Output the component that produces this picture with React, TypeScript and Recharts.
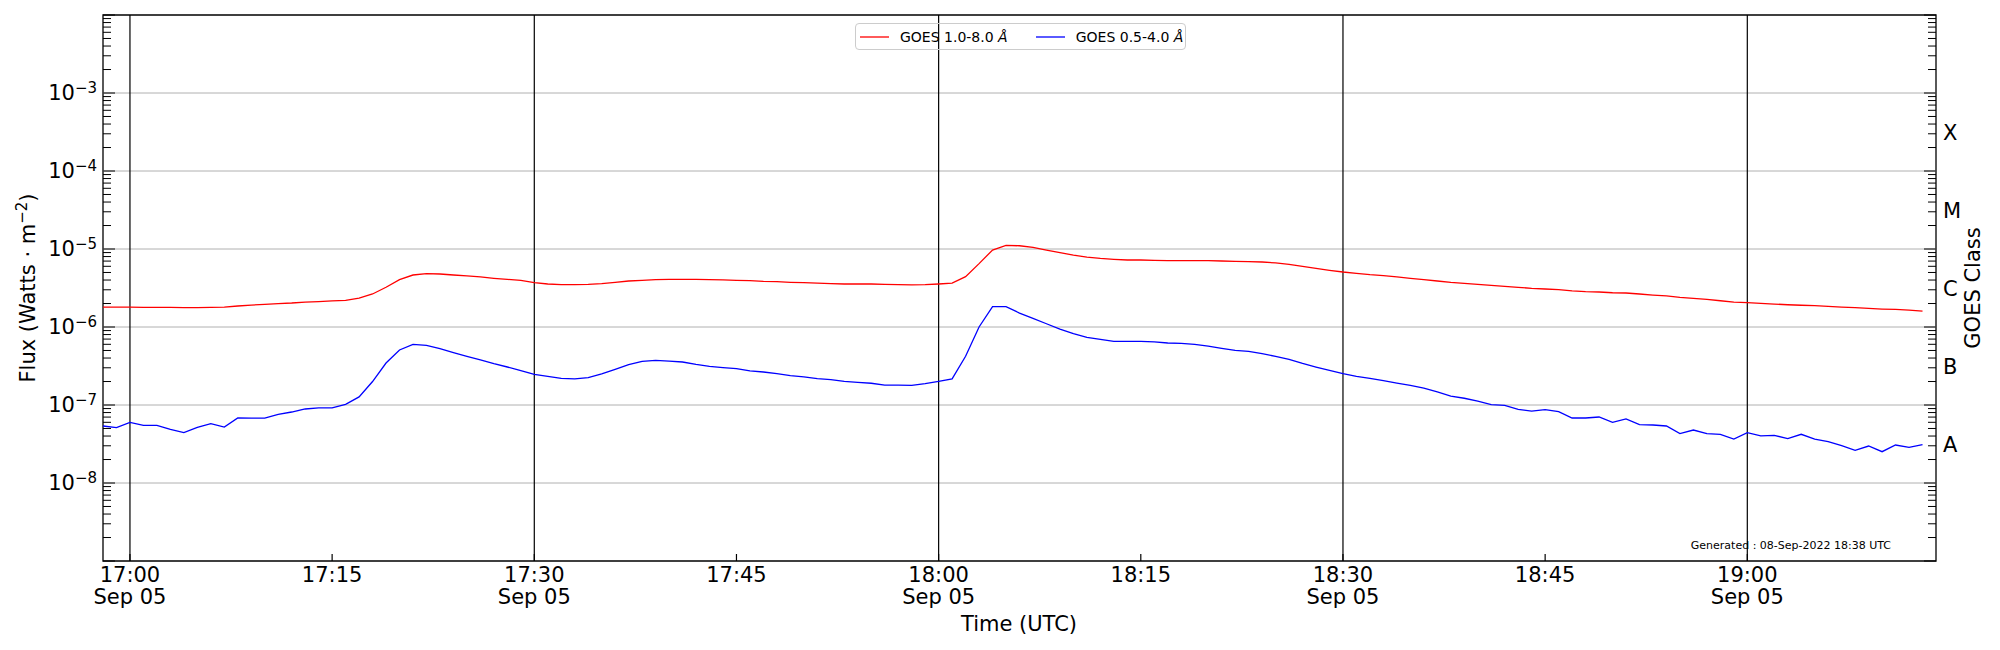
import { LineChart, Line, XAxis, YAxis, ReferenceLine, ReferenceArea, Legend } from "recharts"

// one-minute GOES XRS samples starting at 16:58 UTC, 05 Sep 2022
// long channel (1.0-8.0 Å), units of 1e-6 W/m^2
const xrsbMicro = [
  1.8, 1.8, 1.8, 1.79, 1.78, 1.78, 1.77, 1.77, 1.78, 1.8,
  1.86, 1.91, 1.95, 1.99, 2.03, 2.09, 2.12, 2.16, 2.2, 2.35,
  2.65, 3.23, 4.04, 4.64, 4.83, 4.78, 4.64, 4.51, 4.38, 4.21,
  4.08, 3.97, 3.7, 3.56, 3.49, 3.49, 3.52, 3.6, 3.74, 3.89,
  3.97, 4.04, 4.08, 4.08, 4.08, 4.04, 4.01, 3.97, 3.93, 3.85,
  3.81, 3.74, 3.7, 3.66, 3.6, 3.56, 3.56, 3.56, 3.52, 3.49,
  3.47, 3.49, 3.56, 3.66, 4.42, 6.49, 9.7, 11.1, 11.0, 10.5,
  9.7, 8.97, 8.37, 7.89, 7.59, 7.38, 7.23, 7.23, 7.16, 7.08,
  7.08, 7.08, 7.08, 7.02, 6.95, 6.88, 6.81, 6.62, 6.36, 6.0,
  5.65, 5.33, 5.07, 4.88, 4.69, 4.55, 4.38, 4.21, 4.04, 3.89,
  3.73, 3.63, 3.52, 3.42, 3.32, 3.23, 3.13, 3.07, 3.01, 2.9,
  2.84, 2.81, 2.75, 2.73, 2.65, 2.57, 2.5, 2.4, 2.33, 2.26,
  2.17, 2.09, 2.05, 2.01, 1.97, 1.93, 1.9, 1.88, 1.84, 1.8,
  1.77, 1.73, 1.7, 1.68, 1.65, 1.6,
]

// short channel (0.5-4.0 Å), units of 1e-8 W/m^2
const xrsaCenti = [
  5.38, 5.12, 6.0, 5.48, 5.48, 4.88, 4.42, 5.17, 5.77, 5.22,
  6.81, 6.8, 6.8, 7.59, 8.13, 8.89, 9.16, 9.16, 10.2, 12.7,
  20.0, 34.5, 50.7, 60.0, 58.2, 52.7, 46.9, 42.1, 37.8, 33.9,
  30.7, 27.5, 24.7, 23.3, 22.0, 21.6, 22.4, 25.0, 28.7, 32.9,
  36.3, 37.4, 36.6, 35.6, 33.2, 31.3, 30.1, 29.2, 27.3, 26.5,
  25.2, 23.8, 22.9, 21.8, 21.1, 20.1, 19.5, 19.0, 18.0, 18.0,
  17.9, 18.8, 20.1, 21.6, 42.1, 100, 182, 182, 151, 129,
  110, 94.2, 82.2, 73.8, 69.5, 65.5, 65.5, 65.5, 64.3, 62.4,
  61.5, 60.0, 57.0, 53.3, 50.2, 48.8, 45.5, 42.1, 38.5, 34.2,
  30.7, 27.8, 25.2, 23.3, 22.0, 20.5, 19.1, 17.9, 16.5, 14.7,
  13.0, 12.2, 11.2, 10.1, 9.9, 8.79, 8.37, 8.71, 8.22, 6.81,
  6.81, 7.02, 6.0, 6.62, 5.6, 5.54, 5.38, 4.29, 4.78, 4.29,
  4.21, 3.66, 4.42, 4.01, 4.08, 3.7, 4.21, 3.66, 3.39, 3.01,
  2.62, 2.98, 2.52, 3.07, 2.87, 3.1,
]

const seriesNames = ["GOES 1.0-8.0", "GOES 0.5-4.0"]

// x axis is minutes after 16:58
const timeDomain = [0, 136]
const timeTicks = [2, 17, 32, 47, 62, 77, 92, 107, 122]
const timeLabels = ["17:00", "17:15", "17:30", "17:45", "18:00", "18:15", "18:30", "18:45", "19:00"]
const dateTicks = [2, 32, 62, 92, 122]
const dateLabel = "Sep 05"

const fluxDomain = [1e-9, 1e-2]
const decades = [1e-9, 1e-8, 1e-7, 1e-6, 1e-5, 1e-4, 1e-3, 1e-2]
const labelledExponents = [-8, -7, -6, -5, -4, -3]
const gridLevels = [1e-8, 1e-7, 1e-6, 1e-5, 1e-4, 1e-3]
const minorMultipliers = [2, 3, 4, 5, 6, 7, 8, 9]
const classLetters = ["A", "B", "C", "M", "X"]
const classCenters = [3.162e-8, 3.162e-7, 3.162e-6, 3.162e-5, 3.162e-4]

const generatedNote = "Generated : 08-Sep-2022 18:38 UTC"

const FONT = "DejaVu Sans, sans-serif"
const FS = 21

const data = xrsbMicro.map((v, i) => ({
  t: i,
  xrsb: v * 1e-6,
  xrsa: xrsaCenti[i] * 1e-8,
}))

const minorTicks = decades.slice(0, -1).flatMap((d) => minorMultipliers.map((k) => k * d))
const leftTicks = [...decades, ...minorTicks]
const rightTicks = [...decades, ...minorTicks, ...classCenters]

const isDecade = (v: number) => decades.some((d) => Math.abs(v - d) / d < 1e-9)

function TimeTick(props: any) {
  const { x, y, payload } = props
  const i = timeTicks.indexOf(payload.value)
  return (
    <g>
      <line x1={x} x2={x} y1={y} y2={y - 7} stroke="#000" strokeWidth={1.2} />
      <text x={x} y={y + 21} textAnchor="middle" fontSize={FS} fontFamily={FONT} fill="#000">
        {timeLabels[i]}
      </text>
      {dateTicks.includes(payload.value) && (
        <text x={x} y={y + 43} textAnchor="middle" fontSize={FS} fontFamily={FONT} fill="#000">
          {dateLabel}
        </text>
      )}
    </g>
  )
}

function FluxTick(props: any) {
  const { x, y, payload } = props
  const v = payload.value
  const major = isDecade(v)
  const exp = Math.round(Math.log10(v))
  return (
    <g>
      <line x1={x} x2={x + (major ? 12 : 8)} y1={y} y2={y} stroke="#000" strokeWidth={1} />
      {major && labelledExponents.includes(exp) && (
        <text x={x - 6} y={y + 7} textAnchor="end" fontSize={FS} fontFamily={FONT} fill="#000">
          10
          <tspan dy={-7} fontSize={15}>
            {"\u2212" + Math.abs(exp)}
          </tspan>
        </text>
      )}
    </g>
  )
}

function ClassTick(props: any) {
  const { x, y, payload } = props
  const v = payload.value
  const c = classCenters.indexOf(v)
  if (c >= 0) {
    return (
      <text x={x + 7} y={y + 8} textAnchor="start" fontSize={FS} fontFamily={FONT} fill="#000">
        {classLetters[c]}
      </text>
    )
  }
  return <line x1={x} x2={x - (isDecade(v) ? 12 : 8)} y1={y} y2={y} stroke="#000" strokeWidth={1} />
}

function FluxLegend({ payload }: any) {
  // keep the order the series were declared in
  const items = [...(payload || [])].sort(
    (a: any, b: any) => seriesNames.indexOf(a.value) - seriesNames.indexOf(b.value),
  )
  return (
    <div
      style={{
        display: "flex",
        alignItems: "center",
        height: "100%",
        boxSizing: "border-box",
        border: "1px solid #cccccc",
        borderRadius: 4,
        paddingLeft: 4,
        fontFamily: FONT,
        fontSize: 14,
        color: "#000",
      }}
    >
      {items.map((p: any) => (
        <div key={p.value} style={{ display: "flex", alignItems: "center", marginRight: 28 }}>
          <svg width={29} height={6}>
            <line x1={0} x2={29} y1={3} y2={3} stroke={p.color} strokeWidth={1.3} />
          </svg>
          <span style={{ marginLeft: 11, whiteSpace: "nowrap" }}>
            {p.value} <i>Å</i>
          </span>
        </div>
      ))}
    </div>
  )
}

export default function App() {
  return (
    <div style={{ position: "absolute", left: 0, top: 0, background: "#fff" }}>
      <LineChart width={2000} height={650} data={data} margin={{ top: 15, right: 14, left: 23, bottom: 29 }}>
        <XAxis
          dataKey="t"
          type="number"
          domain={timeDomain}
          ticks={timeTicks}
          interval={0}
          height={60}
          tickSize={0}
          tickMargin={0}
          tickLine={false}
          axisLine={false}
          tick={<TimeTick />}
        />
        <YAxis
          yAxisId="flux"
          scale="log"
          type="number"
          domain={fluxDomain}
          allowDataOverflow
          ticks={leftTicks}
          interval={0}
          width={80}
          tickSize={0}
          tickMargin={0}
          tickLine={false}
          axisLine={false}
          tick={<FluxTick />}
        />
        <YAxis
          yAxisId="class"
          orientation="right"
          scale="log"
          type="number"
          domain={fluxDomain}
          allowDataOverflow
          ticks={rightTicks}
          interval={0}
          width={50}
          tickSize={0}
          tickMargin={0}
          tickLine={false}
          axisLine={false}
          tick={<ClassTick />}
        />
        {gridLevels.map((g) => (
          <ReferenceLine key={g} yAxisId="flux" y={g} stroke="#b0b0b0" strokeWidth={1} />
        ))}
        {dateTicks.map((t) => (
          <ReferenceLine key={t} yAxisId="flux" x={t} stroke="#000" strokeWidth={1.2} />
        ))}
        <Line
          yAxisId="flux"
          type="linear"
          dataKey="xrsb"
          name={seriesNames[0]}
          stroke="#ff0000"
          strokeWidth={1.3}
          dot={false}
          isAnimationActive={false}
        />
        <Line
          yAxisId="flux"
          type="linear"
          dataKey="xrsa"
          name={seriesNames[1]}
          stroke="#0000ff"
          strokeWidth={1.3}
          dot={false}
          isAnimationActive={false}
        />
        <ReferenceArea
          yAxisId="flux"
          x1={timeDomain[0]}
          x2={timeDomain[1]}
          y1={fluxDomain[0]}
          y2={fluxDomain[1]}
          fill="none"
          fillOpacity={0}
          stroke="#000"
          strokeWidth={1.3}
        />
        <Legend
          layout="horizontal"
          verticalAlign="middle"
          align="center"
          content={<FluxLegend />}
          wrapperStyle={{ left: 855, top: 23, width: 331, height: 27 }}
        />
        <text transform="rotate(-90)" x={-288} y={35} textAnchor="middle" fontSize={FS} fontFamily={FONT} fill="#000">
          Flux (Watts · m
          <tspan dy={-8} fontSize={15}>
            {"\u22122"}
          </tspan>
          <tspan dy={8}>)</tspan>
        </text>
        <text transform="rotate(-90)" x={-288} y={1980} textAnchor="middle" fontSize={FS} fontFamily={FONT} fill="#000">
          GOES Class
        </text>
        <text x={1019} y={631} textAnchor="middle" fontSize={FS} fontFamily={FONT} fill="#000">
          Time (UTC)
        </text>
        <text x={1891} y={549} textAnchor="end" fontSize={11} fontFamily={FONT} fill="#000">
          {generatedNote}
        </text>
      </LineChart>
    </div>
  )
}
